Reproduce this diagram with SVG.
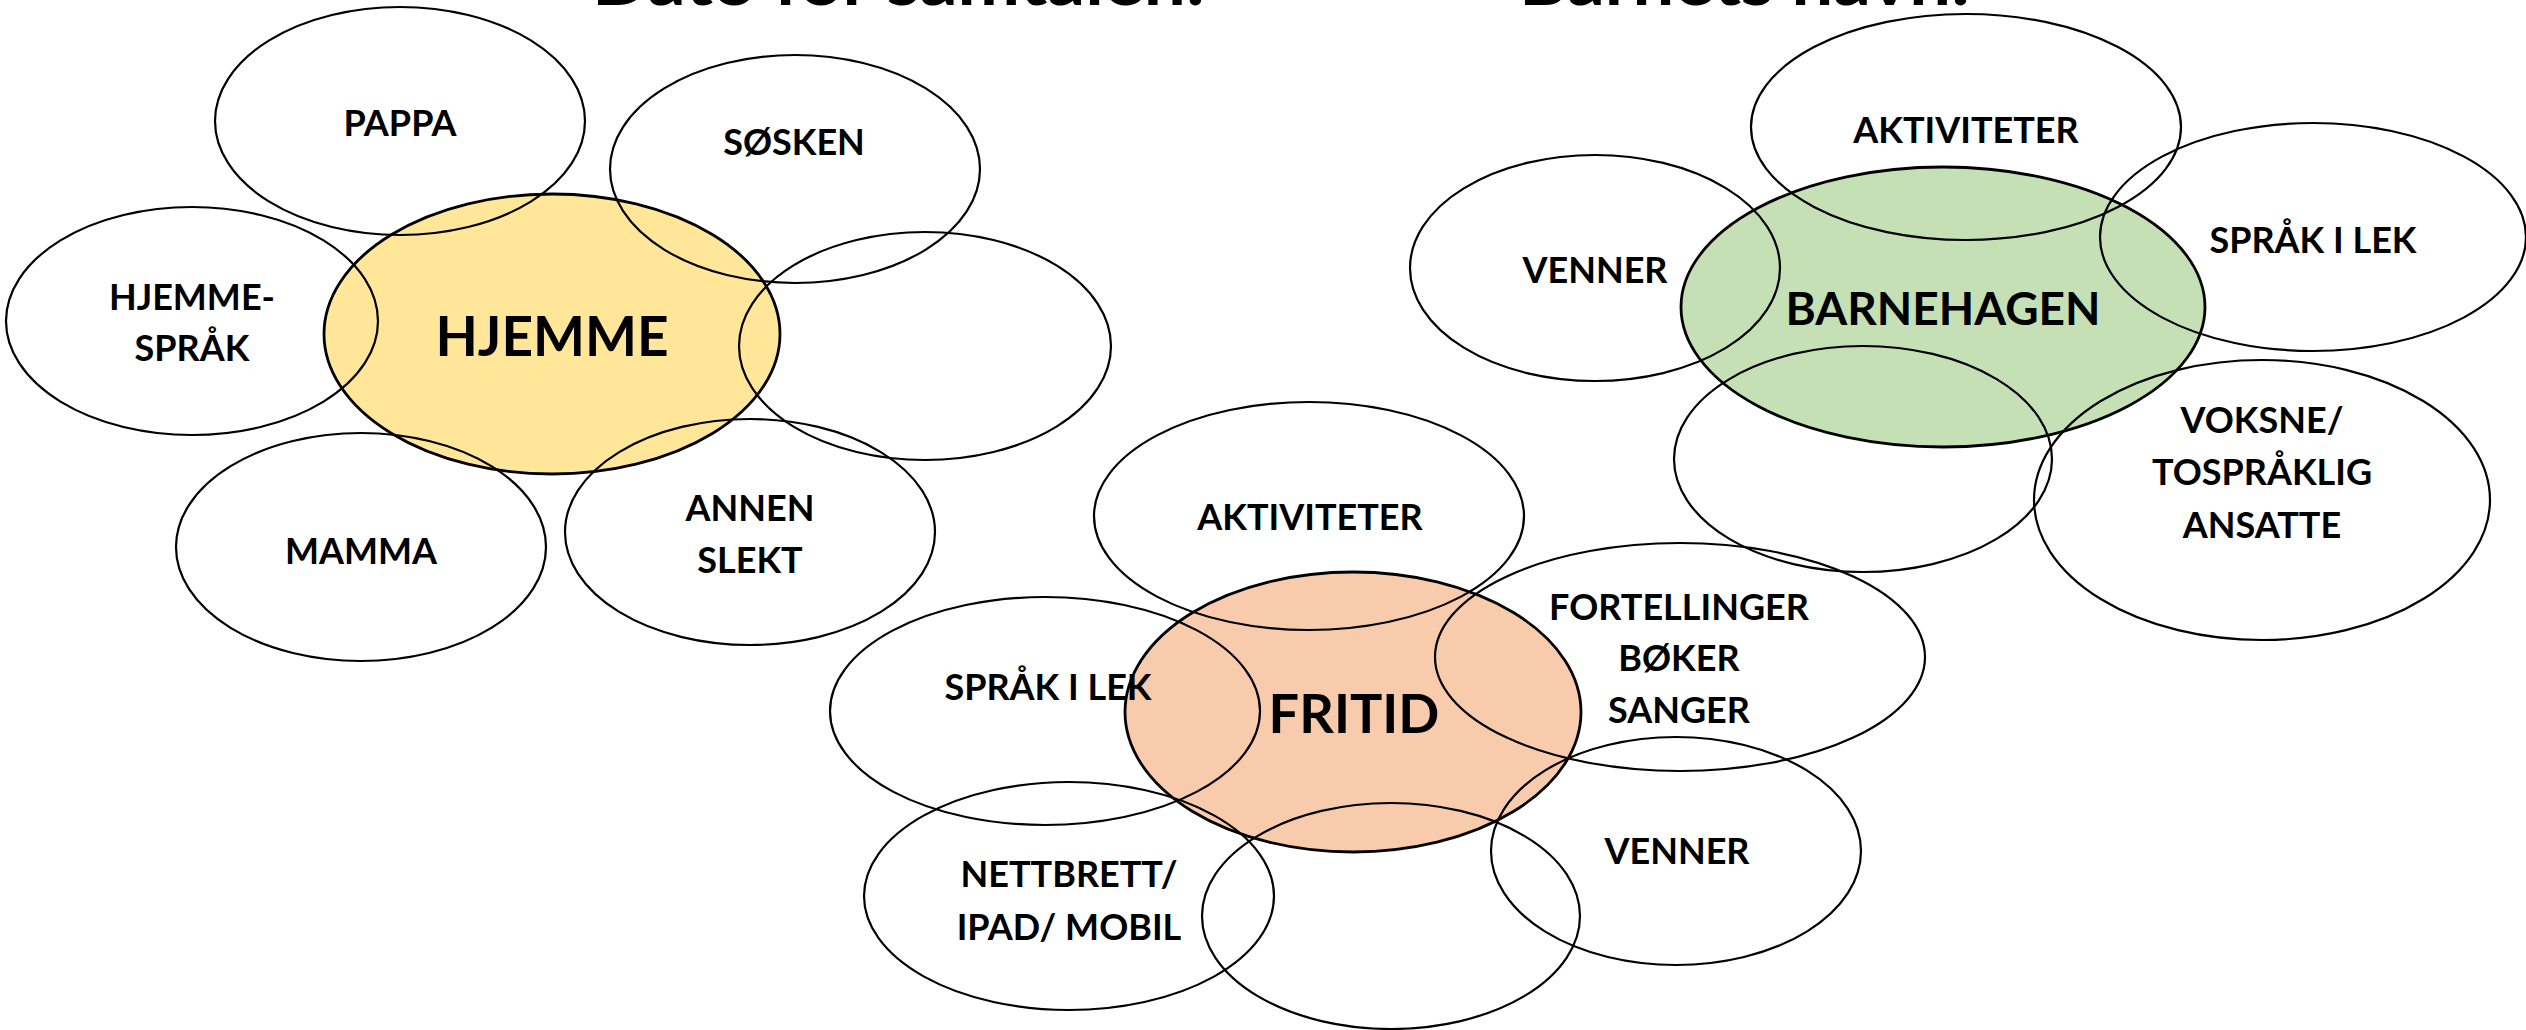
<svg xmlns="http://www.w3.org/2000/svg" width="2526" height="1030" viewBox="0 0 2526 1030">
<style>
.o{fill:none;stroke:#000;stroke-width:2.2}
.c{stroke:#000;stroke-width:2.8}
.t{font-family:Lato,"Liberation Sans",sans-serif;font-weight:bold;font-size:36px;text-anchor:middle;fill:#000}
.b{font-size:55px}
.h{font-family:Lato,"Liberation Sans",sans-serif;font-weight:bold;font-size:66px;fill:#000}
</style>
<rect width="2526" height="1030" fill="#fff"/>
<g id="titles">
<text class="h" x="592" y="5" textLength="613" lengthAdjust="spacingAndGlyphs">Dato for samtalen:</text>
<text class="h" x="1519" y="5" textLength="451" lengthAdjust="spacingAndGlyphs">Barnets navn:</text>
</g>
<g id="centers">
<g id="hjemme"><ellipse class="c" fill="#FFE699" cx="552" cy="334" rx="228" ry="140"/></g>
<g id="barnehagen"><ellipse class="c" fill="#C5E0B4" cx="1943" cy="307" rx="262" ry="140"/></g>
<g id="fritid"><ellipse class="c" fill="#F8CBAD" cx="1353" cy="712" rx="228" ry="140"/></g>
</g>
<g id="connectors"></g>
<g id="hjemme-cluster">
<g id="pappa"><ellipse class="o" cx="400" cy="121" rx="185" ry="114"/></g>
<g id="sosken"><ellipse class="o" cx="795" cy="169" rx="185" ry="114"/></g>
<g id="hjemmesprak"><ellipse class="o" cx="192" cy="321" rx="186" ry="114"/></g>
<g id="tom1"><ellipse class="o" cx="925" cy="346" rx="186" ry="114"/></g>
<g id="mamma"><ellipse class="o" cx="361" cy="547" rx="185" ry="114"/></g>
<g id="annenslekt"><ellipse class="o" cx="750" cy="532" rx="185" ry="113"/></g>
</g>
<g id="barnehagen-cluster">
<g id="aktiviteter1"><ellipse class="o" cx="1966" cy="127" rx="215" ry="113"/></g>
<g id="sprakilek1"><ellipse class="o" cx="2313" cy="237" rx="213" ry="114"/></g>
<g id="venner1"><ellipse class="o" cx="1595" cy="268" rx="185" ry="113"/></g>
<g id="tom2"><ellipse class="o" cx="1863" cy="459" rx="189" ry="113"/></g>
<g id="voksne"><ellipse class="o" cx="2262" cy="500" rx="228" ry="140"/></g>
</g>
<g id="fritid-cluster">
<g id="aktiviteter2"><ellipse class="o" cx="1309" cy="516" rx="215" ry="114"/></g>
<g id="fortellinger"><ellipse class="o" cx="1680" cy="657" rx="245" ry="114"/></g>
<g id="sprakilek2"><ellipse class="o" cx="1045" cy="711" rx="215" ry="114"/></g>
<g id="nettbrett"><ellipse class="o" cx="1069" cy="896" rx="205" ry="114"/></g>
<g id="tom3"><ellipse class="o" cx="1391" cy="916" rx="189" ry="113"/></g>
<g id="venner2"><ellipse class="o" cx="1676" cy="851" rx="185" ry="114"/></g>
</g>
<g id="labels">
<text class="t b" x="552" y="356">HJEMME</text>
<text class="t" x="400" y="136">PAPPA</text>
<text class="t" x="794" y="155">SØSKEN</text>
<text class="t" x="192" y="310">HJEMME-</text>
<text class="t" x="192" y="361">SPRÅK</text>
<text class="t" x="361" y="564">MAMMA</text>
<text class="t" x="750" y="521">ANNEN</text>
<text class="t" x="750" y="573">SLEKT</text>
<text class="t" x="1943" y="325" style="font-size:46px">BARNEHAGEN</text>
<text class="t" x="1966" y="143">AKTIVITETER</text>
<text class="t" x="2313" y="253">SPRÅK I LEK</text>
<text class="t" x="1595" y="283">VENNER</text>
<text class="t" x="2262" y="433">VOKSNE/</text>
<text class="t" x="2262" y="485">TOSPRÅKLIG</text>
<text class="t" x="2262" y="538">ANSATTE</text>
<text class="t" x="1354" y="733" style="font-size:54px">FRITID</text>
<text class="t" x="1310" y="530">AKTIVITETER</text>
<text class="t" x="1679" y="620">FORTELLINGER</text>
<text class="t" x="1679" y="671">BØKER</text>
<text class="t" x="1679" y="723">SANGER</text>
<text class="t" x="1048" y="700">SPRÅK I LEK</text>
<text class="t" x="1069" y="887">NETTBRETT/</text>
<text class="t" x="1069" y="940">IPAD/ MOBIL</text>
<text class="t" x="1677" y="864">VENNER</text>
</g>
</svg>
